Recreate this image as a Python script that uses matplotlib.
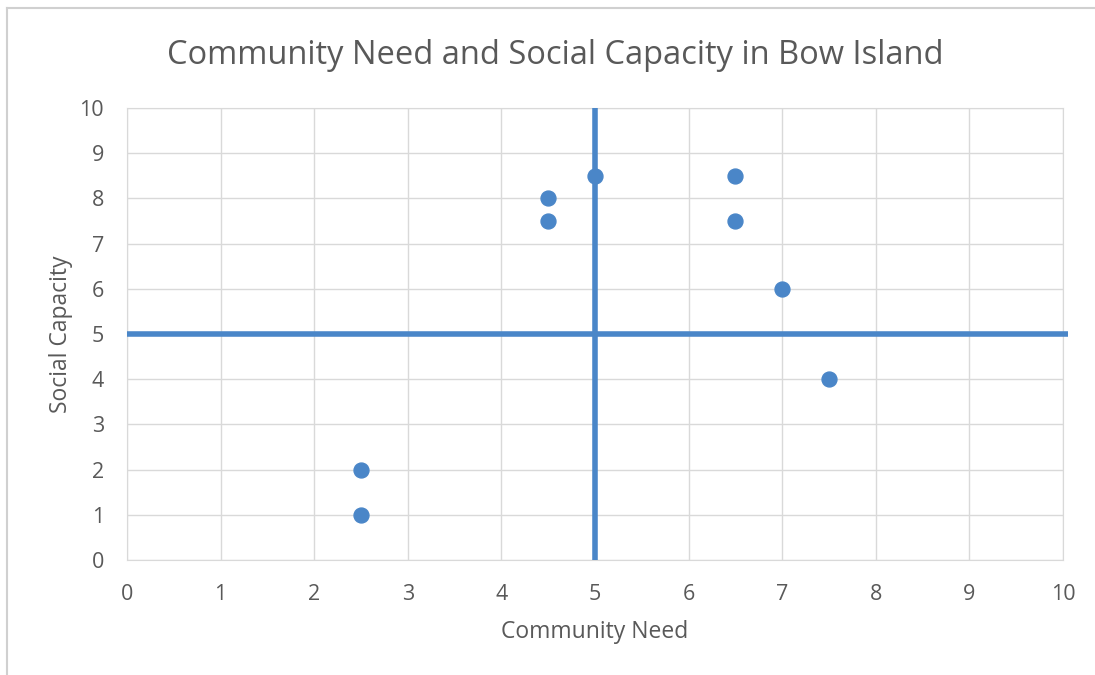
import matplotlib.pyplot as plt
from matplotlib.lines import Line2D

# data
need = [2.5, 2.5, 4.5, 4.5, 5, 6.5, 6.5, 7, 7.5]
capacity = [1, 2, 7.5, 8, 8.5, 8.5, 7.5, 6, 4]
ticks = list(range(0, 11))
mid_x = 5
mid_y = 5

blue = '#4a86c8'
grey_txt = '#595959'
plt.rcParams['font.family'] = ['Open Sans', 'DejaVu Sans']

fig = plt.figure(figsize=(10.95, 6.75), dpi=100)
ax = fig.add_axes([127/1095, 1 - 560/675, (1063-127)/1095, (560-108)/675])

# outer chart border (only left/top visible in the reference)
fig.add_artist(Line2D([7/1095, 7/1095], [1 - 8/675, 0], color='#d0d0d0', lw=1.5, transform=fig.transFigure))
fig.add_artist(Line2D([7/1095, 1], [1 - 8/675, 1 - 8/675], color='#d0d0d0', lw=1.5, transform=fig.transFigure))

ax.set_xlim(0, 10)
ax.set_ylim(0, 10)
ax.set_xticks(ticks)
ax.set_yticks(ticks)
ax.grid(True, color='#d9d9d9', lw=1)
ax.set_axisbelow(True)
for s in ax.spines.values():
    s.set_color('#d9d9d9')
ax.tick_params(length=0, labelsize=15.5, labelcolor=grey_txt)
ax.tick_params(axis='x', pad=17)
ax.tick_params(axis='y', pad=16.5)

# quadrant lines
ax.plot([mid_x, mid_x], [0, 10], color=blue, lw=4, solid_capstyle='butt', clip_on=False, zorder=3)
ax.plot([0, 10.05], [mid_y, mid_y], color=blue, lw=4, solid_capstyle='butt', clip_on=False, zorder=3)

ax.scatter(need, capacity, s=115, color=blue, zorder=4, clip_on=False)

ax.set_xlabel('Community Need', fontsize=16.5, color=grey_txt, labelpad=11)
ax.set_ylabel('Social Capacity', fontsize=16.5, color=grey_txt, labelpad=5)
fig.text(555/1095, 1 - 55/675, 'Community Need and Social Capacity in Bow Island',
         ha='center', va='center', fontsize=23.5, color=grey_txt)

fig.savefig('out.png', dpi=100)
